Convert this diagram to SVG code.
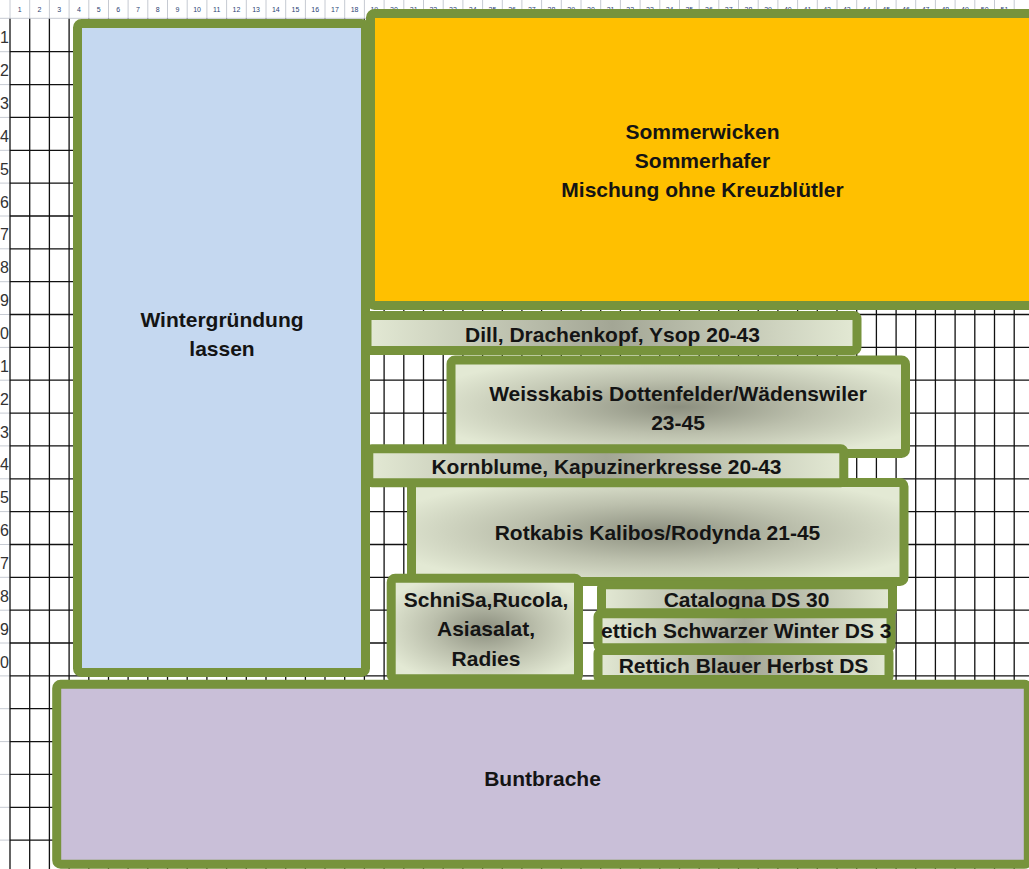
<svg xmlns="http://www.w3.org/2000/svg" width="1029" height="869" viewBox="0 0 1029 869">
<defs>
<style>
.grid{stroke:#111;stroke-width:1.3;fill:none}
.hdr{stroke:#c6cad2;stroke-width:1;fill:none}
.collab{font-family:"Liberation Sans",Arial,sans-serif;font-size:7px;fill:#2b3f73;text-anchor:middle}
.rowlab{font-family:"Liberation Sans",Arial,sans-serif;font-size:16px;fill:#333;text-anchor:start}
.box{stroke:#77933C;stroke-width:9}
.lbl{font-family:"Liberation Sans",Arial,sans-serif;font-weight:bold;font-size:21px;fill:#141414;text-anchor:middle}
</style>
<radialGradient id="vegR" cx="50%" cy="50%" r="58%">
<stop offset="0" stop-color="#8C8F7F"/>
<stop offset="0.5" stop-color="#BCC0AD"/>
<stop offset="1" stop-color="#E3E9D4"/>
</radialGradient>
<linearGradient id="vegL" x1="0" y1="0" x2="1" y2="0">
<stop offset="0" stop-color="#E3E9D4"/>
<stop offset="0.5" stop-color="#A3A695"/>
<stop offset="1" stop-color="#E3E9D4"/>
</linearGradient>
<clipPath id="clipSchw"><rect x="601" y="616" width="290" height="30"/></clipPath>
<clipPath id="clipBlau"><rect x="601" y="653" width="284" height="22.5"/></clipPath>
</defs>
<rect x="0" y="0" width="1029" height="869" fill="#fff"/>
<g id="sheet-grid">
<path class="hdr" d="M10 0V18.8M29.7 0V18.8M49.4 0V18.8M69.1 0V18.8M88.8 0V18.8M108.5 0V18.8M128.1 0V18.8M147.8 0V18.8M167.5 0V18.8M187.2 0V18.8M206.9 0V18.8M226.6 0V18.8M246.3 0V18.8M266 0V18.8M285.7 0V18.8M305.4 0V18.8M325 0V18.8M344.7 0V18.8M364.4 0V18.8M384.1 0V18.8M403.8 0V18.8M423.5 0V18.8M443.2 0V18.8M462.9 0V18.8M482.6 0V18.8M502.3 0V18.8M521.9 0V18.8M541.6 0V18.8M561.3 0V18.8M581 0V18.8M600.7 0V18.8M620.4 0V18.8M640.1 0V18.8M659.8 0V18.8M679.5 0V18.8M699.2 0V18.8M718.8 0V18.8M738.5 0V18.8M758.2 0V18.8M777.9 0V18.8M797.6 0V18.8M817.3 0V18.8M837 0V18.8M856.7 0V18.8M876.4 0V18.8M896.1 0V18.8M915.7 0V18.8M935.4 0V18.8M955.1 0V18.8M974.8 0V18.8M994.5 0V18.8M1014.2 0V18.8M0 18.3H1029"/>
<path class="hdr" d="M0 51.7H10M0 84.6H10M0 117.4H10M0 150.3H10M0 183.1H10M0 216H10M0 248.8H10M0 281.7H10M0 314.5H10M0 347.4H10M0 380.2H10M0 413.1H10M0 445.9H10M0 478.8H10M0 511.6H10M0 544.5H10M0 577.3H10M0 610.2H10M0 643H10M0 675.9H10M0 708.7H10M0 741.6H10M0 774.4H10M0 807.3H10M0 840.1H10"/>
<path class="grid" d="M10 18.8V869M29.7 18.8V869M49.4 18.8V869M69.1 18.8V869M88.8 18.8V869M108.5 18.8V869M128.1 18.8V869M147.8 18.8V869M167.5 18.8V869M187.2 18.8V869M206.9 18.8V869M226.6 18.8V869M246.3 18.8V869M266 18.8V869M285.7 18.8V869M305.4 18.8V869M325 18.8V869M344.7 18.8V869M364.4 18.8V869M384.1 18.8V869M403.8 18.8V869M423.5 18.8V869M443.2 18.8V869M462.9 18.8V869M482.6 18.8V869M502.3 18.8V869M521.9 18.8V869M541.6 18.8V869M561.3 18.8V869M581 18.8V869M600.7 18.8V869M620.4 18.8V869M640.1 18.8V869M659.8 18.8V869M679.5 18.8V869M699.2 18.8V869M718.8 18.8V869M738.5 18.8V869M758.2 18.8V869M777.9 18.8V869M797.6 18.8V869M817.3 18.8V869M837 18.8V869M856.7 18.8V869M876.4 18.8V869M896.1 18.8V869M915.7 18.8V869M935.4 18.8V869M955.1 18.8V869M974.8 18.8V869M994.5 18.8V869M1014.2 18.8V869"/>
<path class="grid" d="M10 51.7H1029M10 84.6H1029M10 117.4H1029M10 150.3H1029M10 183.1H1029M10 216H1029M10 248.8H1029M10 281.7H1029M10 314.5H1029M10 347.4H1029M10 380.2H1029M10 413.1H1029M10 445.9H1029M10 478.8H1029M10 511.6H1029M10 544.5H1029M10 577.3H1029M10 610.2H1029M10 643H1029M10 675.9H1029M10 708.7H1029M10 741.6H1029M10 774.4H1029M10 807.3H1029M10 840.1H1029"/>
<g id="col-labels">
<text class="collab" x="19.8" y="12">1</text><text class="collab" x="39.5" y="12">2</text><text class="collab" x="59.2" y="12">3</text><text class="collab" x="78.9" y="12">4</text><text class="collab" x="98.6" y="12">5</text><text class="collab" x="118.3" y="12">6</text><text class="collab" x="138" y="12">7</text><text class="collab" x="157.7" y="12">8</text><text class="collab" x="177.4" y="12">9</text><text class="collab" x="197.1" y="12">10</text><text class="collab" x="216.7" y="12">11</text><text class="collab" x="236.4" y="12">12</text><text class="collab" x="256.1" y="12">13</text><text class="collab" x="275.8" y="12">14</text><text class="collab" x="295.5" y="12">15</text><text class="collab" x="315.2" y="12">16</text><text class="collab" x="334.9" y="12">17</text><text class="collab" x="354.6" y="12">18</text><text class="collab" x="374.3" y="12">19</text><text class="collab" x="394" y="12">20</text><text class="collab" x="413.7" y="12">21</text><text class="collab" x="433.3" y="12">22</text><text class="collab" x="453" y="12">23</text><text class="collab" x="472.7" y="12">24</text><text class="collab" x="492.4" y="12">25</text><text class="collab" x="512.1" y="12">26</text><text class="collab" x="531.8" y="12">27</text><text class="collab" x="551.5" y="12">28</text><text class="collab" x="571.2" y="12">29</text><text class="collab" x="590.9" y="12">30</text><text class="collab" x="610.6" y="12">31</text><text class="collab" x="630.2" y="12">32</text><text class="collab" x="649.9" y="12">33</text><text class="collab" x="669.6" y="12">34</text><text class="collab" x="689.3" y="12">35</text><text class="collab" x="709" y="12">36</text><text class="collab" x="728.7" y="12">37</text><text class="collab" x="748.4" y="12">38</text><text class="collab" x="768.1" y="12">39</text><text class="collab" x="787.8" y="12">40</text><text class="collab" x="807.5" y="12">41</text><text class="collab" x="827.1" y="12">42</text><text class="collab" x="846.8" y="12">43</text><text class="collab" x="866.5" y="12">44</text><text class="collab" x="886.2" y="12">45</text><text class="collab" x="905.9" y="12">46</text><text class="collab" x="925.6" y="12">47</text><text class="collab" x="945.3" y="12">48</text><text class="collab" x="965" y="12">49</text><text class="collab" x="984.7" y="12">50</text><text class="collab" x="1004.4" y="12">51</text>
</g>
<g id="row-labels">
<text class="rowlab" x="0" y="43.3">1</text><text class="rowlab" x="0" y="76.2">2</text><text class="rowlab" x="0" y="109">3</text><text class="rowlab" x="0" y="141.9">4</text><text class="rowlab" x="0" y="174.7">5</text><text class="rowlab" x="0" y="207.6">6</text><text class="rowlab" x="0" y="240.4">7</text><text class="rowlab" x="0" y="273.3">8</text><text class="rowlab" x="0" y="306.1">9</text><text class="rowlab" x="0" y="339">0</text><text class="rowlab" x="0" y="371.8">1</text><text class="rowlab" x="0" y="404.7">2</text><text class="rowlab" x="0" y="437.5">3</text><text class="rowlab" x="0" y="470.4">4</text><text class="rowlab" x="0" y="503.2">5</text><text class="rowlab" x="0" y="536.1">6</text><text class="rowlab" x="0" y="568.9">7</text><text class="rowlab" x="0" y="601.8">8</text><text class="rowlab" x="0" y="634.6">9</text><text class="rowlab" x="0" y="667.5">0</text>
</g>
</g>
<g id="sommer">
<rect class="box" x="370.5" y="13.5" width="700" height="292" rx="4" fill="#FFC000" stroke-width="10"/>
<text class="lbl" x="702.5" y="139">Sommerwicken</text>
<text class="lbl" x="702.5" y="168.3">Sommerhafer</text>
<text class="lbl" x="702.5" y="197.3">Mischung ohne Kreuzblütler</text>
</g>
<g id="winter">
<rect class="box" x="77.5" y="23.5" width="288" height="649" rx="4" fill="#C5D8F0"/>
<text class="lbl" x="222" y="327">Wintergründung</text>
<text class="lbl" x="222" y="356">lassen</text>
</g>
<g id="dill">
<rect class="box" x="367" y="315.5" width="490" height="35" rx="3" fill="url(#vegL)"/>
<text class="lbl" x="612.5" y="341.5">Dill, Drachenkopf, Ysop 20-43</text>
</g>
<g id="weisskabis">
<rect class="box" x="451" y="360" width="454.5" height="93.5" rx="4" fill="url(#vegR)"/>
<text class="lbl" x="678" y="400.5">Weisskabis Dottenfelder/Wädenswiler</text>
<text class="lbl" x="678" y="429.5">23-45</text>
</g>
<g id="rotkabis">
<rect class="box" x="411.5" y="482.5" width="492.5" height="99" rx="4" fill="url(#vegR)"/>
<text class="lbl" x="657.5" y="540">Rotkabis Kalibos/Rodynda 21-45</text>
</g>
<g id="kornblume">
<rect class="box" x="368.8" y="448.8" width="475" height="34" rx="3" fill="url(#vegL)"/>
<text class="lbl" x="606.5" y="474">Kornblume, Kapuzinerkresse 20-43</text>
</g>
<g id="schnisa">
<rect class="box" x="391.2" y="578.2" width="187.3" height="100.6" rx="4" fill="url(#vegR)"/>
<text class="lbl" x="486" y="606.7">SchniSa,Rucola,</text>
<text class="lbl" x="486" y="636">Asiasalat,</text>
<text class="lbl" x="486" y="666">Radies</text>
</g>
<g id="catalogna">
<rect class="box" x="601.5" y="584.8" width="291" height="28" rx="3" fill="url(#vegL)" stroke-width="10"/>
<text class="lbl" x="746.5" y="606.7">Catalogna DS 30</text>
</g>
<g id="rettich-schwarz">
<rect class="box" x="598" y="613.8" width="293" height="34" rx="3" fill="url(#vegL)" stroke-width="10"/>
<text class="lbl" x="744.5" y="638" clip-path="url(#clipSchw)">Rettich Schwarzer Winter DS 30</text>
</g>
<g id="rettich-blau">
<rect class="box" x="598" y="650.5" width="291" height="29" rx="3" fill="url(#vegL)" stroke-width="10"/>
<text class="lbl" x="743.5" y="673.3" clip-path="url(#clipBlau)">Rettich Blauer Herbst DS</text>
</g>
<g id="buntbrache">
<rect class="box" x="56.7" y="684.3" width="971.6" height="180" rx="4" fill="#C9BFD8" stroke-width="10"/>
<text class="lbl" x="542.5" y="786">Buntbrache</text>
</g>
</svg>
